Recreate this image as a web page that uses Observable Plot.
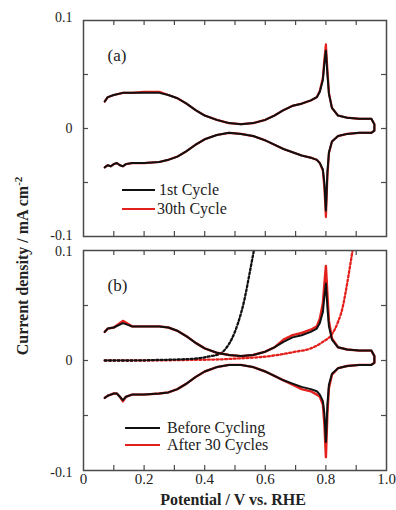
<!DOCTYPE html>
<html><head><meta charset="utf-8">
<script src="https://cdn.jsdelivr.net/npm/d3@7"></script>
<script src="https://cdn.jsdelivr.net/npm/@observablehq/plot@0.6"></script>
<style>
body{margin:0;background:#fff;}
#wrap{position:relative;width:396px;height:510px;font-family:"Liberation Serif","Times New Roman",serif;color:#222;overflow:hidden;background:#fff}
#wrap svg{overflow:visible;background:transparent}
.panel{position:absolute;left:0}
.abs{position:absolute;white-space:nowrap}
.leg-line{position:absolute;height:2px}
.leg-text{position:absolute;white-space:nowrap;font-size:16px;transform:translateY(-50%);line-height:1}
#ytitle{left:22px;top:266px;transform:translate(-50%,-50%) rotate(-90deg);font-weight:bold;font-size:16px}
#xtitle{left:233px;top:500px;transform:translate(-50%,-50%);font-weight:bold;font-size:16px}
</style></head>
<body>
<div id="wrap">
  <div class="panel" id="pa" style="top:0"></div>
  <div class="panel" id="pb" style="top:240px"></div>
  <div class="abs" id="ytitle">Current density / mA cm<sup style="font-size:11px">-2</sup></div>
  <div class="abs" id="xtitle">Potential / V vs. RHE</div>
  <div id="legends"></div>
</div>
<script>
// ---------- data ----------
const xTickVals = [0, 0.2, 0.4, 0.6, 0.8, 1.0];
const xTickLabels = ["0", "0.2", "0.4", "0.6", "0.8", "1.0"];
const xMinorTicks = [0.1, 0.2, 0.3, 0.4, 0.5, 0.6, 0.7, 0.8, 0.9];
const yTickVals = [-0.1, 0, 0.1];
const yTickLabels = ["-0.1", "0", "0.1"];
const yMinorTicks = [-0.05, 0, 0.05];

const legendA = ["1st Cycle", "30th Cycle"];
const legendB = ["Before Cycling", "After 30 Cycles"];
const panelLabels = ["(a)", "(b)"];

// anodic (upper) branch potentials, V
const E_up = [0.07,0.08,0.10,0.13,0.16,0.20,0.25,0.28,0.31,0.34,0.37,0.40,0.44,0.48,0.52,0.56,0.60,0.63,0.66,0.69,0.72,0.75,0.77,0.78,0.79,0.795,0.80,0.805,0.81,0.82,0.84,0.87,0.91,0.95,0.96];
// cathodic (lower) branch potentials, V
const E_down = [0.96,0.95,0.91,0.87,0.84,0.82,0.81,0.805,0.80,0.795,0.79,0.78,0.77,0.75,0.72,0.69,0.66,0.63,0.60,0.56,0.52,0.48,0.44,0.40,0.37,0.34,0.31,0.28,0.25,0.20,0.16,0.14,0.13,0.12,0.11,0.10,0.09,0.08,0.07];

// panel (a): 1st cycle
const a1_up = [0.025,0.029,0.031,0.033,0.033,0.033,0.033,0.031,0.028,0.023,0.017,0.012,0.008,0.005,0.004,0.005,0.008,0.012,0.017,0.021,0.023,0.026,0.029,0.034,0.045,0.060,0.072,0.050,0.032,0.019,0.012,0.010,0.009,0.009,0.004];
const a1_down = [-0.002,-0.004,-0.004,-0.005,-0.007,-0.012,-0.022,-0.040,-0.076,-0.050,-0.038,-0.032,-0.029,-0.027,-0.025,-0.022,-0.019,-0.015,-0.011,-0.007,-0.005,-0.004,-0.006,-0.010,-0.015,-0.021,-0.026,-0.029,-0.031,-0.032,-0.032,-0.033,-0.035,-0.034,-0.032,-0.033,-0.035,-0.034,-0.036];
// panel (a): 30th cycle
const a30_up = [0.025,0.029,0.031,0.033,0.033,0.034,0.034,0.031,0.028,0.023,0.017,0.012,0.008,0.005,0.004,0.005,0.008,0.012,0.017,0.021,0.023,0.026,0.029,0.035,0.047,0.064,0.078,0.054,0.033,0.019,0.012,0.010,0.009,0.009,0.004];
const a30_down = [-0.002,-0.004,-0.004,-0.005,-0.007,-0.012,-0.023,-0.044,-0.082,-0.055,-0.039,-0.032,-0.029,-0.027,-0.025,-0.022,-0.019,-0.015,-0.011,-0.007,-0.005,-0.004,-0.006,-0.010,-0.015,-0.021,-0.026,-0.029,-0.031,-0.032,-0.032,-0.033,-0.035,-0.034,-0.032,-0.033,-0.035,-0.034,-0.036];

// panel (b): before cycling
const b0_up = [0.026,0.029,0.030,0.034,0.031,0.031,0.031,0.030,0.027,0.022,0.016,0.011,0.007,0.005,0.004,0.005,0.008,0.012,0.017,0.021,0.023,0.026,0.029,0.034,0.044,0.058,0.070,0.048,0.031,0.019,0.012,0.010,0.009,0.009,0.004];
const b0_down = [-0.002,-0.004,-0.004,-0.005,-0.007,-0.012,-0.022,-0.040,-0.074,-0.048,-0.037,-0.031,-0.028,-0.026,-0.024,-0.021,-0.018,-0.014,-0.010,-0.006,-0.004,-0.004,-0.006,-0.010,-0.015,-0.021,-0.026,-0.029,-0.030,-0.031,-0.031,-0.033,-0.036,-0.033,-0.030,-0.030,-0.031,-0.032,-0.034];
// panel (b): after 30 cycles
const b30_up = [0.026,0.029,0.030,0.036,0.031,0.031,0.031,0.030,0.027,0.022,0.016,0.011,0.007,0.005,0.004,0.005,0.008,0.012,0.019,0.023,0.025,0.028,0.031,0.038,0.052,0.070,0.086,0.060,0.036,0.020,0.012,0.010,0.009,0.009,0.004];
const b30_down = [-0.002,-0.004,-0.004,-0.005,-0.007,-0.013,-0.025,-0.048,-0.088,-0.058,-0.040,-0.033,-0.031,-0.028,-0.026,-0.022,-0.018,-0.014,-0.010,-0.006,-0.004,-0.004,-0.006,-0.010,-0.015,-0.021,-0.026,-0.029,-0.030,-0.031,-0.031,-0.033,-0.037,-0.033,-0.030,-0.030,-0.031,-0.032,-0.034];

// panel (b): dotted (linear sweep) curves
const E_dot0 = [0.07,0.15,0.25,0.32,0.38,0.42,0.45,0.47,0.49,0.51,0.53,0.55,0.565];
const j_dot0 = [0,0,0.0005,0.001,0.002,0.004,0.006,0.011,0.020,0.034,0.054,0.082,0.104];
const E_dot30 = [0.07,0.20,0.35,0.45,0.52,0.58,0.64,0.70,0.75,0.79,0.82,0.84,0.855,0.865,0.875,0.885,0.895];
const j_dot30 = [0,0,0.0005,0.001,0.002,0.003,0.005,0.008,0.011,0.017,0.024,0.035,0.048,0.062,0.078,0.095,0.112];

// ---------- helpers ----------
const BLACK = "#111", RED = "#e3201c", FRAME = "#4a4a4a", TXT = "#222";
const loop = (up, down) => E_up.map((e, i) => ({e, j: up[i]})).concat(E_down.map((e, i) => ({e, j: down[i]})));
const pts = (E, J) => E.map((e, i) => ({e, j: J[i]}));
const fmtX = d => xTickLabels[xTickVals.findIndex(v => Math.abs(v - d) < 1e-9)];
const fmtY = d => yTickLabels[yTickVals.findIndex(v => Math.abs(v - d) < 1e-9)];

function panel({height, mt, mb, curves, label, showX, dyTop, dyBottom}) {
  const W = 396, ml = 83, mr = 10;
  const pw = W - ml - mr, ph = height - mt - mb;
  const tk = 5;
  const marks = [];
  for (const c of curves) marks.push(c);
  const yAx = (vals, dy) => Plot.axisY(vals, {tickSize: 0, tickPadding: 11, dy, tickFormat: fmtY, fill: TXT, label: null, fontSize: 14});
  marks.push(
    Plot.frame({stroke: FRAME, strokeWidth: 1.5}),
    Plot.tickX(xMinorTicks, {x: d => d, insetBottom: ph - tk, stroke: FRAME, strokeWidth: 1.2}),
    Plot.tickX(xMinorTicks, {x: d => d, insetTop: ph - tk, stroke: FRAME, strokeWidth: 1.2}),
    Plot.tickY(yMinorTicks, {y: d => d, insetRight: pw - tk, stroke: FRAME, strokeWidth: 1.2}),
    Plot.tickY(yMinorTicks, {y: d => d, insetLeft: pw - tk, stroke: FRAME, strokeWidth: 1.2}),
    yAx([0.1], dyTop),
    yAx([0], 0),
    yAx([-0.1], dyBottom),
    Plot.text([label], {text: d => d, frameAnchor: "top-left", dx: 24, dy: 28, fontSize: 17, textAnchor: "start", fill: TXT})
  );
  if (showX) marks.push(Plot.axisX(xTickVals, {tickSize: 0, tickPadding: 3, tickFormat: fmtX, fill: TXT, label: null}));
  return Plot.plot({
    width: W, height, marginLeft: ml, marginRight: mr, marginTop: mt, marginBottom: mb,
    x: {domain: [0, 1], label: null, axis: showX ? undefined : null},
    y: {domain: [-0.1, 0.1], label: null},
    style: {fontFamily: '"Liberation Serif","Times New Roman",serif', fontSize: "15px", background: "transparent", overflow: "visible", color: TXT},
    marks
  });
}

const lineOpts = (stroke, w) => ({x: "e", y: "j", stroke, strokeWidth: w, strokeLinejoin: "round", strokeLinecap: "round"});

document.getElementById("pa").appendChild(panel({
  height: 240, mt: 20, mb: 4, label: panelLabels[0], showX: false, dyTop: -3, dyBottom: -1,
  curves: [
    Plot.line(loop(a30_up, a30_down), lineOpts(RED, 2.2)),
    Plot.line(loop(a1_up, a1_down), lineOpts(BLACK, 2))
  ]
}));

document.getElementById("pb").appendChild(panel({
  height: 270, mt: 10, mb: 40, label: panelLabels[1], showX: true, dyTop: 1, dyBottom: 2,
  curves: [
    Plot.line(pts(E_dot30, j_dot30), {x: "e", y: "j", stroke: RED, strokeWidth: 2.3, strokeDasharray: "2,2.3", curve: "monotone-x", clip: true}),
    Plot.line(pts(E_dot0, j_dot0), {x: "e", y: "j", stroke: BLACK, strokeWidth: 2.3, strokeDasharray: "2,2.3", curve: "monotone-x", clip: true}),
    Plot.line(loop(b30_up, b30_down), lineOpts(RED, 2.4)),
    Plot.line(loop(b0_up, b0_down), lineOpts(BLACK, 2))
  ]
}));

// legends (HTML, positioned in page pixels)
const legendItems = [
  {text: legendA[0], color: BLACK, x0: 122, x1: 155, y: 190, tx: 159},
  {text: legendA[1], color: RED, x0: 122, x1: 155, y: 209, tx: 157},
  {text: legendB[0], color: BLACK, x0: 125, x1: 160, y: 428, tx: 167},
  {text: legendB[1], color: RED, x0: 125, x1: 160, y: 445, tx: 167}
];
const lg = document.getElementById("legends");
for (const it of legendItems) {
  const l = document.createElement("div");
  l.className = "leg-line";
  l.style.cssText = `left:${it.x0}px;top:${it.y - 1}px;width:${it.x1 - it.x0}px;background:${it.color}`;
  lg.appendChild(l);
  const t = document.createElement("div");
  t.className = "leg-text";
  t.style.cssText = `left:${it.tx}px;top:${it.y}px`;
  t.textContent = it.text;
  lg.appendChild(t);
}
</script>
</body></html>
